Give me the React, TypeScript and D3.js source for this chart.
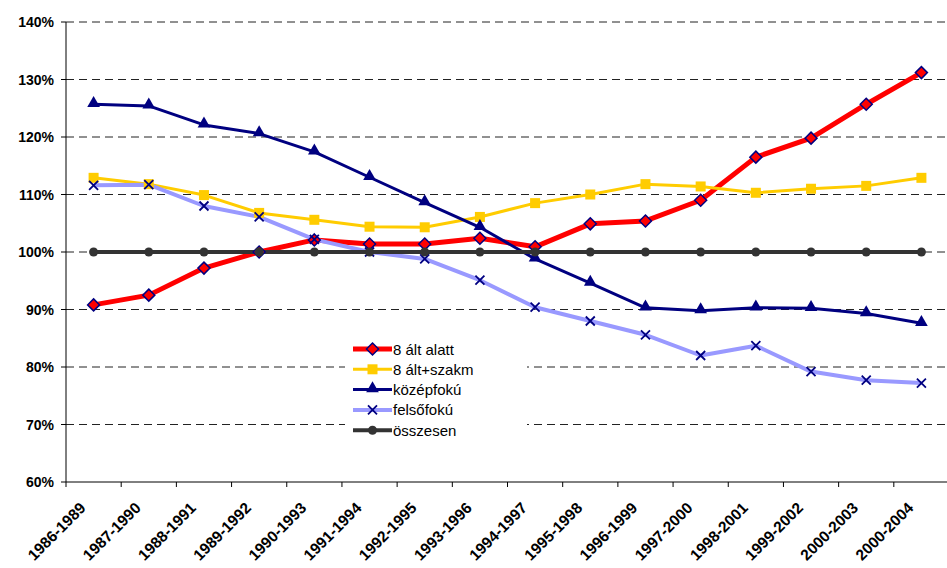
import React, { useEffect, useRef } from 'react';
import * as d3 from 'd3';

// periods on the x axis
const periods = [
  '1986-1989', '1987-1990', '1988-1991', '1989-1992', '1990-1993', '1991-1994',
  '1992-1995', '1993-1996', '1994-1997', '1995-1998', '1996-1999', '1997-2000',
  '1998-2001', '1999-2002', '2000-2003', '2000-2004',
];

const alt8Alatt = [90.8, 92.5, 97.2, 100.0, 102.1, 101.4, 101.4, 102.4, 100.9, 104.9, 105.4, 109.0, 116.5, 119.8, 125.7, 131.2];
const alt8Szakm = [112.9, 111.8, 109.9, 106.8, 105.6, 104.4, 104.3, 106.1, 108.5, 110.0, 111.8, 111.4, 110.3, 111.0, 111.5, 112.9];
const kozepfoku = [125.7, 125.4, 122.1, 120.6, 117.4, 113.0, 108.6, 104.3, 98.8, 94.6, 90.3, 89.8, 90.3, 90.2, 89.3, 87.6];
const felsofoku = [111.6, 111.7, 108.0, 106.1, 102.2, 100.0, 98.8, 95.1, 90.4, 88.0, 85.6, 82.0, 83.7, 79.2, 77.7, 77.2];
const osszesen = [100, 100, 100, 100, 100, 100, 100, 100, 100, 100, 100, 100, 100, 100, 100, 100];

const yTicks = [60, 70, 80, 90, 100, 110, 120, 130, 140];

const series = [
  { name: '8 ált alatt', values: alt8Alatt, color: '#FF0000', width: 5, marker: 'diamond' },
  { name: '8 ált+szakm', values: alt8Szakm, color: '#FFCC00', width: 3, marker: 'square' },
  { name: 'középfokú', values: kozepfoku, color: '#000080', width: 3, marker: 'triangle' },
  { name: 'felsőfokú', values: felsofoku, color: '#9999FF', width: 4, marker: 'cross' },
  { name: 'összesen', values: osszesen, color: '#333333', width: 4, marker: 'circle' },
];

const W = 947;
const H = 568;
const font = 'Arial, "Liberation Sans", sans-serif';

function drawMarker(g, kind, x, y, color) {
  if (kind === 'diamond') {
    g.append('path')
      .attr('d', `M${x},${y - 6}L${x + 6},${y}L${x},${y + 6}L${x - 6},${y}Z`)
      .attr('fill', '#FF0000')
      .attr('stroke', '#000080')
      .attr('stroke-width', 1.5);
  } else if (kind === 'square') {
    g.append('rect')
      .attr('x', x - 5).attr('y', y - 5)
      .attr('width', 10).attr('height', 10)
      .attr('fill', color);
  } else if (kind === 'triangle') {
    g.append('path')
      .attr('d', d3.symbol(d3.symbolTriangle, 70)(null))
      .attr('transform', `translate(${x},${y - 1})`)
      .attr('fill', color);
  } else if (kind === 'cross') {
    g.append('path')
      .attr('d', `M${x - 4.5},${y - 4.5}L${x + 4.5},${y + 4.5}M${x - 4.5},${y + 4.5}L${x + 4.5},${y - 4.5}`)
      .attr('stroke', '#000080')
      .attr('stroke-width', 1.8)
      .attr('fill', 'none');
  } else {
    g.append('circle')
      .attr('cx', x).attr('cy', y).attr('r', 4.5)
      .attr('fill', color);
  }
}

const App = () => {
  const svgRef = useRef(null);

  useEffect(() => {
    const svg = d3.select(svgRef.current);
    svg.selectAll('*').remove();

    const x = d3.scaleBand().domain(periods).range([66, 949]);
    const y = d3.scaleLinear().domain([60, 140]).range([482, 22]);
    const cx = (d) => x(d) + x.bandwidth() / 2;

    // gridlines
    svg.append('g')
      .selectAll('line')
      .data(yTicks.filter((t) => t > 60))
      .join('line')
      .attr('x1', 66).attr('x2', W)
      .attr('y1', (d) => y(d)).attr('y2', (d) => y(d))
      .attr('stroke', '#222')
      .attr('stroke-width', 1)
      .attr('stroke-dasharray', '8,5');

    // y axis
    const yAxis = svg.append('g');
    yAxis.append('line')
      .attr('x1', 66).attr('x2', 66).attr('y1', 22).attr('y2', 482)
      .attr('stroke', '#000');
    yTicks.forEach((t) => {
      yAxis.append('line')
        .attr('x1', 61).attr('x2', 66).attr('y1', y(t)).attr('y2', y(t))
        .attr('stroke', '#000');
      yAxis.append('text')
        .attr('x', 54).attr('y', y(t) + 5)
        .attr('text-anchor', 'end')
        .attr('font-family', font).attr('font-size', 14).attr('font-weight', 'bold')
        .text(`${t}%`);
    });

    // x axis, labels rotated -45
    const xAxis = svg.append('g');
    xAxis.append('line')
      .attr('x1', 66).attr('x2', W).attr('y1', 482).attr('y2', 482)
      .attr('stroke', '#000');
    periods.forEach((p) => {
      const tx = x(p);
      xAxis.append('line')
        .attr('x1', tx).attr('x2', tx).attr('y1', 482).attr('y2', 487)
        .attr('stroke', '#000');
      const ax = cx(p) - 7;
      const ay = 509;
      xAxis.append('text')
        .attr('x', ax).attr('y', ay)
        .attr('transform', `rotate(-45 ${ax} ${ay})`)
        .attr('text-anchor', 'end')
        .attr('font-family', font).attr('font-size', 15.5).attr('font-weight', 'bold')
        .text(p);
    });

    // series lines
    const line = d3.line().x((d, i) => cx(periods[i])).y((d) => y(d));
    const plot = svg.append('g');
    series.forEach((s) => {
      plot.append('path')
        .datum(s.values)
        .attr('d', line)
        .attr('fill', 'none')
        .attr('stroke', s.color)
        .attr('stroke-width', s.width)
        .attr('stroke-linejoin', 'round');
    });
    series.forEach((s) => {
      s.values.forEach((v, i) => drawMarker(plot, s.marker, cx(periods[i]), y(v), s.color));
    });

    // legend
    const lg = svg.append('g');
    lg.append('rect')
      .attr('x', 345).attr('y', 338).attr('width', 182).attr('height', 110)
      .attr('fill', '#fff');
    series.forEach((s, i) => {
      const ly = 349 + i * 20.3;
      lg.append('line')
        .attr('x1', 353).attr('x2', 392).attr('y1', ly).attr('y2', ly)
        .attr('stroke', s.color).attr('stroke-width', s.width);
      drawMarker(lg, s.marker, 372.5, ly, s.color);
      lg.append('text')
        .attr('x', 393).attr('y', ly + 5.5)
        .attr('font-family', font).attr('font-size', 15)
        .text(s.name);
    });
  }, []);

  return <svg ref={svgRef} width={W} height={H} style={{ position: 'absolute', left: 0, top: 0, background: '#fff' }} />;
};

export default App;
